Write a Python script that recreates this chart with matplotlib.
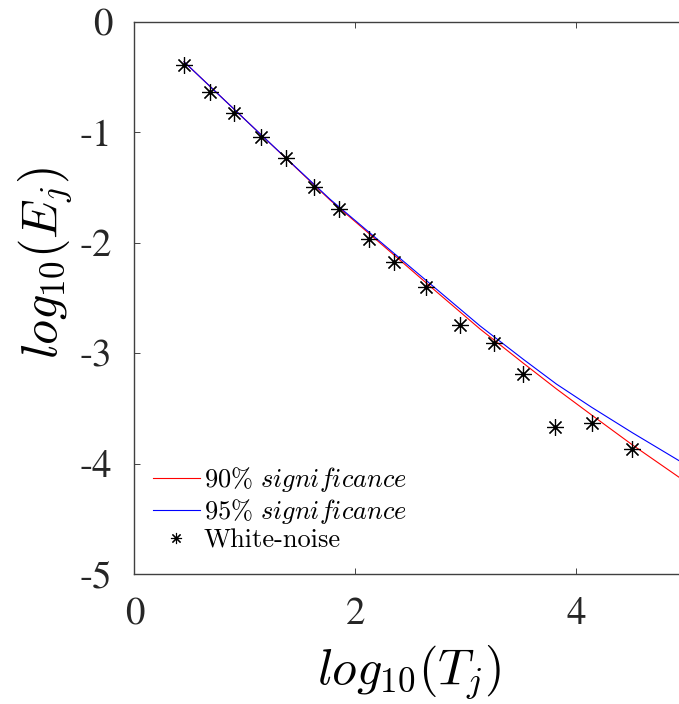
import matplotlib.pyplot as plt
import numpy as np

plt.rcParams['font.family'] = ['STIXGeneral', 'Liberation Serif', 'DejaVu Serif']
plt.rcParams['mathtext.fontset'] = 'cm'
plt.rcParams['axes.unicode_minus'] = False

# Dades llegides del gràfic
x_line = [0.449, 1.145, 1.770, 2.349, 2.675, 3.127, 3.519, 3.82, 4.138, 4.506, 4.928, 5.0]
y90 = [-0.36, -1.02, -1.612, -2.11, -2.393, -2.78, -3.09, -3.324, -3.56, -3.83, -4.123, -4.17]
y95 = [-0.36, -1.02, -1.605, -2.095, -2.37, -2.752, -3.055, -3.28, -3.49, -3.72, -3.973, -4.015]

x_wn = [0.449, 0.684, 0.901, 1.145, 1.371, 1.625, 1.851, 2.126, 2.349, 2.639,
        2.946, 3.254, 3.519, 3.806, 4.138, 4.506]
y_wn = [-0.387, -0.630, -0.826, -1.038, -1.229, -1.492, -1.697, -1.966, -2.172, -2.399,
        -2.747, -2.907, -3.185, -3.670, -3.633, -3.872]

xticks = [0, 2, 4]
yticks = [0, -1, -2, -3, -4, -5]

W, H = 679, 704
fig = plt.figure(figsize=(W/100, H/100), dpi=100)
# l'eix continua més enllà de la vora dreta (retallat com a l'original)
ax = fig.add_axes([134.4/W, 130/H, 552.5/W, 552/H])

ax.plot(x_line, y90, color='#ff0000', lw=0.8, label=r'$90\%\ significance$')
ax.plot(x_line, y95, color='#0000ff', lw=0.8, label=r'$95\%\ significance$')
ax.plot(x_wn, y_wn, ls='none', marker=(8, 2, 0), ms=12, mew=0.85, color='black',
        label='White-noise')

ax.set_xlim(0, 5)
ax.set_ylim(-5, 0)
ax.set_xticks(xticks)
ax.set_xticklabels([str(t) for t in xticks])
ax.set_yticks(yticks)
ax.set_yticklabels([str(t) for t in yticks])
ax.tick_params(direction='in', top=True, right=True, length=4.5, width=0.6,
               labelsize=28, colors='#262626')
ax.tick_params(axis='x', pad=17)
ax.tick_params(axis='y', pad=16)
for s in ax.spines.values():
    s.set_color('#404040')
    s.set_linewidth(1.0)

ax.set_xlabel(r'$log_{10}(T_j)$', fontsize=36, va='center', ha='center')
ax.xaxis.set_label_coords(0.497, -0.177)
ax.set_ylabel(r'$log_{10}(E_j)$', fontsize=36, va='center', ha='center')
ax.yaxis.set_label_coords(-0.162, 0.563)

leg = ax.legend(loc='lower left', frameon=False, fontsize=19, handlelength=1.78,
                handletextpad=0.15, labelspacing=0.1, borderaxespad=0.3,
                bbox_to_anchor=(0.0, 0.006))
leg.get_texts()[2].set_family('cmr10')
leg.legend_handles[2].set_markersize(8)
leg.legend_handles[2].set_markeredgewidth(0.8)

plt.savefig('out.png', dpi=100)
